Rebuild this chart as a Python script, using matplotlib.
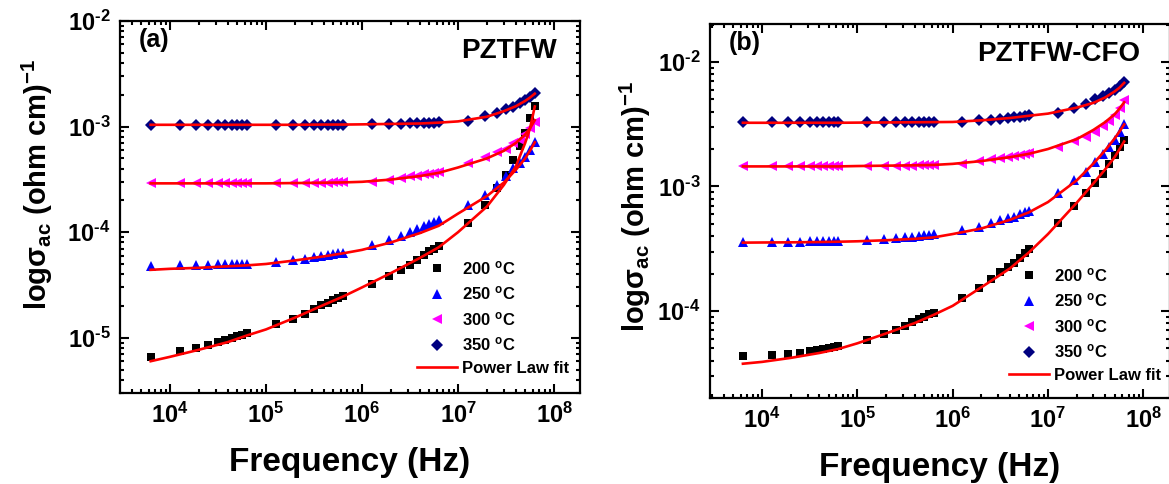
import math
import matplotlib
matplotlib.use("Agg")
import matplotlib.pyplot as plt
from matplotlib.ticker import FuncFormatter, NullFormatter

plt.rcParams['font.family'] = ['Liberation Sans', 'DejaVu Sans']
plt.rcParams['font.weight'] = 'bold'
plt.rcParams['mathtext.fontset'] = 'custom'
plt.rcParams['mathtext.rm'] = 'Liberation Sans:bold'
plt.rcParams['mathtext.bf'] = 'Liberation Sans:bold'
plt.rcParams['mathtext.it'] = 'Liberation Sans:bold'
plt.rcParams['mathtext.default'] = 'bf'
plt.rcParams['axes.unicode_minus'] = False

# measured frequencies (Hz)
freq = [6.3e3, 1.26e4, 1.89e4, 2.52e4, 3.15e4, 3.78e4, 4.41e4, 5.04e4, 5.67e4, 6.3e4,
        1.26e5, 1.89e5, 2.52e5, 3.15e5, 3.78e5, 4.41e5, 5.04e5, 5.67e5, 6.3e5,
        1.26e6, 1.89e6, 2.52e6, 3.15e6, 3.78e6, 4.41e6, 5.04e6, 5.67e6, 6.3e6,
        1.26e7, 1.89e7, 2.52e7, 3.15e7, 3.78e7, 4.41e7, 5.04e7, 5.67e7, 6.3e7]

# frequencies where the power law fit curve is drawn
fit_freq = [6.3e3, 1e4, 2e4, 4e4, 6.3e4, 1e5, 2e5, 4e5, 6.3e5, 1e6, 2e6, 4e6, 6.3e6,
            1e7, 2e7, 3e7, 4e7, 5e7, 5.6e7, 6.3e7]

temps = ['200', '250', '300', '350']

# (a) PZTFW
a_200 = [6.6e-6, 7.5e-6, 8.0e-6, 8.5e-6, 9.1e-6, 9.6e-6, 1.0e-5, 1.04e-5, 1.07e-5, 1.1e-5,
         1.35e-5, 1.52e-5, 1.69e-5, 1.86e-5, 2.03e-5, 2.15e-5, 2.28e-5, 2.4e-5, 2.5e-5,
         3.2e-5, 3.84e-5, 4.4e-5, 4.9e-5, 5.5e-5, 6.1e-5, 6.6e-5, 7.0e-5, 7.4e-5,
         1.22e-4, 1.82e-4, 2.6e-4, 3.5e-4, 4.8e-4, 6.5e-4, 8.7e-4, 1.2e-3, 1.57e-3]
a_250 = [4.8e-5, 4.85e-5, 4.9e-5, 4.9e-5, 4.95e-5, 4.95e-5, 5.0e-5, 5.0e-5, 5.0e-5, 5.0e-5,
         5.2e-5, 5.45e-5, 5.6e-5, 5.8e-5, 5.95e-5, 6.1e-5, 6.2e-5, 6.3e-5, 6.4e-5,
         7.5e-5, 8.4e-5, 9.3e-5, 1.0e-4, 1.07e-4, 1.15e-4, 1.2e-4, 1.26e-4, 1.31e-4,
         1.82e-4, 2.27e-4, 2.8e-4, 3.37e-4, 4.05e-4, 4.5e-4, 5.2e-4, 6.0e-4, 7.2e-4]
a_300 = [2.92e-4, 2.92e-4, 2.92e-4, 2.92e-4, 2.92e-4, 2.92e-4, 2.92e-4, 2.92e-4, 2.92e-4, 2.92e-4,
         2.93e-4, 2.93e-4, 2.94e-4, 2.94e-4, 2.95e-4, 2.95e-4, 2.96e-4, 2.96e-4, 2.97e-4,
         3.0e-4, 3.1e-4, 3.25e-4, 3.37e-4, 3.4e-4, 3.55e-4, 3.58e-4, 3.6e-4, 3.7e-4,
         4.5e-4, 5.2e-4, 5.8e-4, 6.1e-4, 7.0e-4, 7.5e-4, 8.6e-4, 9.6e-4, 1.11e-3]
a_350 = [1.04e-3, 1.04e-3, 1.04e-3, 1.04e-3, 1.04e-3, 1.04e-3, 1.04e-3, 1.04e-3, 1.04e-3, 1.04e-3,
         1.04e-3, 1.04e-3, 1.04e-3, 1.04e-3, 1.04e-3, 1.04e-3, 1.04e-3, 1.045e-3, 1.045e-3,
         1.05e-3, 1.05e-3, 1.06e-3, 1.07e-3, 1.08e-3, 1.08e-3, 1.09e-3, 1.09e-3, 1.10e-3,
         1.12e-3, 1.26e-3, 1.34e-3, 1.46e-3, 1.54e-3, 1.66e-3, 1.78e-3, 1.92e-3, 2.09e-3]

a_fit_200 = [6.0e-6, 6.6e-6, 7.7e-6, 9.1e-6, 1.05e-5, 1.2e-5, 1.55e-5, 2.05e-5, 2.45e-5, 3.0e-5,
             4.1e-5, 5.7e-5, 7.2e-5, 1.0e-4, 1.75e-4, 2.8e-4, 4.2e-4, 7.0e-4, 9.5e-4, 1.55e-3]
a_fit_250 = [4.4e-5, 4.5e-5, 4.6e-5, 4.75e-5, 4.85e-5, 5.0e-5, 5.4e-5, 5.9e-5, 6.3e-5, 6.8e-5,
             8.0e-5, 9.8e-5, 1.15e-4, 1.5e-4, 2.2e-4, 2.95e-4, 3.9e-4, 5.0e-4, 5.9e-4, 7.1e-4]
a_fit_300 = [2.9e-4, 2.9e-4, 2.9e-4, 2.9e-4, 2.9e-4, 2.9e-4, 2.92e-4, 2.94e-4, 2.96e-4, 3.0e-4,
             3.15e-4, 3.4e-4, 3.65e-4, 4.1e-4, 5.0e-4, 5.9e-4, 7.0e-4, 8.4e-4, 9.6e-4, 1.15e-3]
a_fit_350 = [1.04e-3, 1.04e-3, 1.04e-3, 1.04e-3, 1.04e-3, 1.04e-3, 1.04e-3, 1.045e-3, 1.045e-3, 1.05e-3,
             1.06e-3, 1.07e-3, 1.09e-3, 1.12e-3, 1.24e-3, 1.4e-3, 1.56e-3, 1.75e-3, 1.88e-3, 2.05e-3]

# (b) PZTFW-CFO
b_200 = [4.31e-5, 4.4e-5, 4.5e-5, 4.6e-5, 4.75e-5, 4.85e-5, 4.97e-5, 5.05e-5, 5.1e-5, 5.2e-5,
         5.87e-5, 6.5e-5, 7.0e-5, 7.6e-5, 8.1e-5, 8.6e-5, 9.0e-5, 9.5e-5, 9.6e-5,
         1.26e-4, 1.54e-4, 1.8e-4, 2.05e-4, 2.25e-4, 2.45e-4, 2.65e-4, 2.9e-4, 3.15e-4,
         5.1e-4, 6.95e-4, 8.8e-4, 1.07e-3, 1.27e-3, 1.53e-3, 1.79e-3, 2.08e-3, 2.36e-3]
b_250 = [3.6e-4, 3.6e-4, 3.6e-4, 3.6e-4, 3.62e-4, 3.62e-4, 3.63e-4, 3.64e-4, 3.65e-4, 3.65e-4,
         3.7e-4, 3.8e-4, 3.85e-4, 3.9e-4, 3.95e-4, 4.0e-4, 4.05e-4, 4.1e-4, 4.15e-4,
         4.5e-4, 4.74e-4, 5.1e-4, 5.36e-4, 5.55e-4, 5.7e-4, 5.98e-4, 6.25e-4, 6.37e-4,
         8.9e-4, 1.12e-3, 1.31e-3, 1.58e-3, 1.84e-3, 2.08e-3, 2.36e-3, 2.75e-3, 3.2e-3]
b_300 = [1.46e-3, 1.46e-3, 1.46e-3, 1.46e-3, 1.46e-3, 1.46e-3, 1.46e-3, 1.46e-3, 1.46e-3, 1.46e-3,
         1.47e-3, 1.47e-3, 1.47e-3, 1.47e-3, 1.47e-3, 1.48e-3, 1.48e-3, 1.48e-3, 1.48e-3,
         1.53e-3, 1.6e-3, 1.66e-3, 1.7e-3, 1.74e-3, 1.77e-3, 1.8e-3, 1.83e-3, 1.85e-3,
         2.09e-3, 2.3e-3, 2.5e-3, 2.75e-3, 3.05e-3, 3.37e-3, 3.75e-3, 4.25e-3, 4.95e-3]
b_350 = [3.27e-3, 3.27e-3, 3.27e-3, 3.27e-3, 3.27e-3, 3.27e-3, 3.27e-3, 3.27e-3, 3.27e-3, 3.27e-3,
         3.27e-3, 3.27e-3, 3.28e-3, 3.28e-3, 3.28e-3, 3.29e-3, 3.29e-3, 3.3e-3, 3.3e-3,
         3.3e-3, 3.4e-3, 3.45e-3, 3.5e-3, 3.55e-3, 3.6e-3, 3.65e-3, 3.7e-3, 3.72e-3,
         3.92e-3, 4.3e-3, 4.6e-3, 5.0e-3, 5.3e-3, 5.6e-3, 6.0e-3, 6.4e-3, 6.94e-3]

b_fit_200 = [3.77e-5, 3.9e-5, 4.2e-5, 4.6e-5, 4.95e-5, 5.5e-5, 6.6e-5, 8.0e-5, 9.3e-5, 1.1e-4,
             1.55e-4, 2.2e-4, 2.95e-4, 4.15e-4, 7.4e-4, 1.06e-3, 1.38e-3, 1.72e-3, 1.98e-3, 2.3e-3]
b_fit_250 = [3.54e-4, 3.55e-4, 3.56e-4, 3.58e-4, 3.6e-4, 3.63e-4, 3.7e-4, 3.8e-4, 3.9e-4, 4.15e-4,
             4.6e-4, 5.4e-4, 6.2e-4, 7.5e-4, 1.12e-3, 1.53e-3, 1.96e-3, 2.43e-3, 2.75e-3, 3.15e-3]
b_fit_300 = [1.45e-3, 1.45e-3, 1.45e-3, 1.45e-3, 1.45e-3, 1.46e-3, 1.47e-3, 1.48e-3, 1.49e-3, 1.52e-3,
             1.6e-3, 1.72e-3, 1.83e-3, 2.0e-3, 2.4e-3, 2.85e-3, 3.3e-3, 3.8e-3, 4.2e-3, 4.75e-3]
b_fit_350 = [3.25e-3, 3.25e-3, 3.25e-3, 3.25e-3, 3.25e-3, 3.26e-3, 3.27e-3, 3.28e-3, 3.29e-3, 3.3e-3,
             3.4e-3, 3.55e-3, 3.7e-3, 3.85e-3, 4.3e-3, 4.7e-3, 5.2e-3, 5.8e-3, 6.2e-3, 6.8e-3]

markers = ['s', '^', '<', 'D']
colors = ['#000000', '#0000FF', '#FF00FF', '#000080']
msizes = [6.0, 7.0, 7.0, 6.0]

W, H = 1169, 484
fig = plt.figure(figsize=(W / 100, H / 100), dpi=100)


def px_axes(left, right, top, bottom):
    return fig.add_axes([left / W, (H - bottom) / H, (right - left) / W, (bottom - top) / H])


def decade_label(v, pos):
    e = str(int(round(math.log10(v)))).replace('-', '\u2010')
    return r'$\mathbf{10^{%s}}$' % e


def draw_panel(ax, data, fits, ylim, xlim, tag, name, name_x, ylab_xy, leg_xy):
    for i in range(4):
        ax.plot(freq, data[i], linestyle='none', marker=markers[i], color=colors[i],
                markersize=msizes[i], markeredgewidth=0, label=temps[i] + r' $^{o}$C')
    for i in range(4):
        ax.plot(fit_freq, fits[i], color='#FF0000', linewidth=1.9,
                label='Power Law fit' if i == 0 else None)
    ax.set_xscale('log')
    ax.set_yscale('log')
    ax.set_xlim(xlim)
    ax.set_ylim(ylim)
    for axis in (ax.xaxis, ax.yaxis):
        axis.set_major_formatter(FuncFormatter(decade_label))
        axis.set_minor_formatter(NullFormatter())
    for s in ax.spines.values():
        s.set_linewidth(1.6)
    ax.tick_params(which='both', direction='in', top=True, right=True, width=1.5)
    ax.tick_params(which='major', length=6.5, labelsize=17, pad=7)
    ax.tick_params(which='minor', length=3)
    ax.set_xlabel('Frequency (Hz)', fontsize=24, fontweight='bold', va='center')
    ax.xaxis.set_label_coords(0.5, -0.186)
    ax.text(ylab_xy[0], ylab_xy[1], r'log$\sigma_{ac}$ (ohm cm)$^{-1}$', transform=ax.transAxes,
            rotation=90, ha='center', va='center', fontsize=21, fontweight='bold')
    ax.text(0.04, 0.98, tag, transform=ax.transAxes, fontsize=18, fontweight='bold',
            ha='left', va='top')
    ax.text(name_x, 0.955, name, transform=ax.transAxes, fontsize=20, fontweight='bold',
            ha='right', va='top')
    ax.legend(loc='upper left',
              bbox_to_anchor=(leg_xy[0] / W, 1 - leg_xy[1] / H), bbox_transform=fig.transFigure,
              frameon=False, fontsize=12, handlelength=2.4, handletextpad=0.3,
              labelspacing=0.45, borderpad=0, borderaxespad=0)


ax1 = px_axes(120, 580, 21, 393)
draw_panel(ax1, [a_200, a_250, a_300, a_350], [a_fit_200, a_fit_250, a_fit_300, a_fit_350],
           (3.0e-6, 1e-2), (10 ** 3.48, 10 ** 8.27), '(a)', 'PZTFW', 0.95,
           (-0.18, 0.562), (417, 259))

ax2 = px_axes(710, 1170, 24, 398)
draw_panel(ax2, [b_200, b_250, b_300, b_350], [b_fit_200, b_fit_250, b_fit_300, b_fit_350],
           (2.0e-5, 2.02e-2), (10 ** 3.454, 10 ** 8.28), '(b)', 'PZTFW-CFO', 0.935,
           (-0.163, 0.513), (1009, 266))

fig.savefig('out.png', dpi=100)
